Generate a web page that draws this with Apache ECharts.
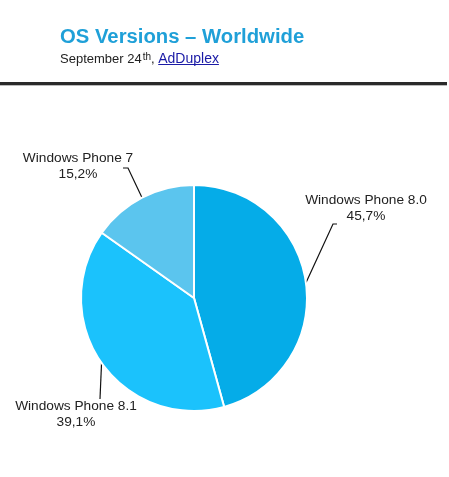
<!DOCTYPE html>
<html>
<head>
<meta charset="utf-8">
<script src="https://cdn.jsdelivr.net/npm/echarts@6/dist/echarts.min.js"></script>
<style>
html,body{margin:0;padding:0;background:#fff;}
#chart{width:449px;height:477px;}
</style>
</head>
<body>
<div id="chart"></div>
<script>
// ---- data ----
var categories = ['Windows Phone 8.0', 'Windows Phone 8.1', 'Windows Phone 7'];
var shares = [45.7, 39.1, 15.2];
var sliceColors = ['#05ACE8', '#1BC2FC', '#5BC5EE'];
var titleText = 'OS Versions \u2013 Worldwide';
var subtitleDate = 'September 24';
var subtitleSup = 'th';
var subtitleSource = 'AdDuplex';

// ---- layout (label centres and leader-line end offsets from label centre) ----
var labelCenters = [[366, 208], [76, 414], [78, 166]];
var guideEnds = [
  [[-33, 16], [-29, 16]],
  [[24, -15], [24, -15]],
  [[50, 2], [45, 2]]
];

var FONT = 'Liberation Sans';
var titleLeft = 60;

// measure subtitle pieces to place the link underline
var mctx = document.createElement('canvas').getContext('2d');
function tw(s, size) { mctx.font = size + 'px "' + FONT + '"'; return mctx.measureText(s).width; }
var supPadL = 1;
var linkStart = titleLeft + tw(subtitleDate, 13) + supPadL + tw(subtitleSup, 10) + tw(', ', 13);
var linkWidth = tw(subtitleSource, 14);

var chart = echarts.init(document.getElementById('chart'), null, {renderer: 'canvas'});

var pieData = categories.map(function (c, i) {
  return {name: c, value: shares[i], itemStyle: {color: sliceColors[i]}};
});

chart.setOption({
  animation: false,
  title: {
    left: titleLeft,
    top: 27,
    padding: 0,
    itemGap: 5,
    text: titleText,
    textStyle: {
      fontFamily: FONT,
      fontSize: 20.3,
      lineHeight: 20,
      fontWeight: 'bold',
      color: '#1FA0D8'
    },
    subtext: subtitleDate + '{sup|' + subtitleSup + '}, {link|' + subtitleSource + '}',
    subtextStyle: {
      fontFamily: FONT,
      fontSize: 13,
      lineHeight: 14,
      color: '#222',
      rich: {
        sup: {fontFamily: FONT, fontSize: 10, color: '#222', padding: [0, 0, 4, supPadL]},
        link: {fontFamily: FONT, fontSize: 14, color: '#1A1AA6'}
      }
    }
  },
  graphic: [
    {type: 'rect', left: 0, top: 82, shape: {width: 447, height: 3}, style: {fill: '#2a2a2a'}},
    {type: 'rect', left: 0, top: 85, shape: {width: 447, height: 1}, style: {fill: '#bbbbbb'}},
    {type: 'rect', left: linkStart, top: 64, shape: {width: linkWidth, height: 1}, style: {fill: '#1A1AA6'}}
  ],
  series: [{
    type: 'pie',
    center: [194, 298],
    radius: 113,
    startAngle: 90,
    clockwise: true,
    data: pieData,
    itemStyle: {borderColor: '#ffffff', borderWidth: 2},
    emphasis: {disabled: true},
    label: {
      show: true,
      position: 'outside',
      overflow: 'none',
      fontFamily: FONT,
      fontSize: 13.7,
      lineHeight: 16,
      color: '#222',
      align: 'center',
      formatter: function (p) {
        return p.name + '\n' + String(p.value).replace('.', ',') + '%';
      }
    },
    labelLine: {
      show: true,
      length: 15,
      length2: 10,
      lineStyle: {color: '#111', width: 1.2}
    },
    labelLayout: function (params) {
      var i = params.dataIndex;
      var c = labelCenters[i];
      var anchor = params.labelLinePoints ? params.labelLinePoints[0] : [c[0], c[1]];
      var g = guideEnds[i];
      return {
        x: c[0],
        y: c[1],
        align: 'center',
        verticalAlign: 'middle',
        labelLinePoints: [
          [anchor[0], anchor[1]],
          [c[0] + g[0][0], c[1] + g[0][1]],
          [c[0] + g[1][0], c[1] + g[1][1]]
        ]
      };
    }
  }]
});
</script>
</body>
</html>
